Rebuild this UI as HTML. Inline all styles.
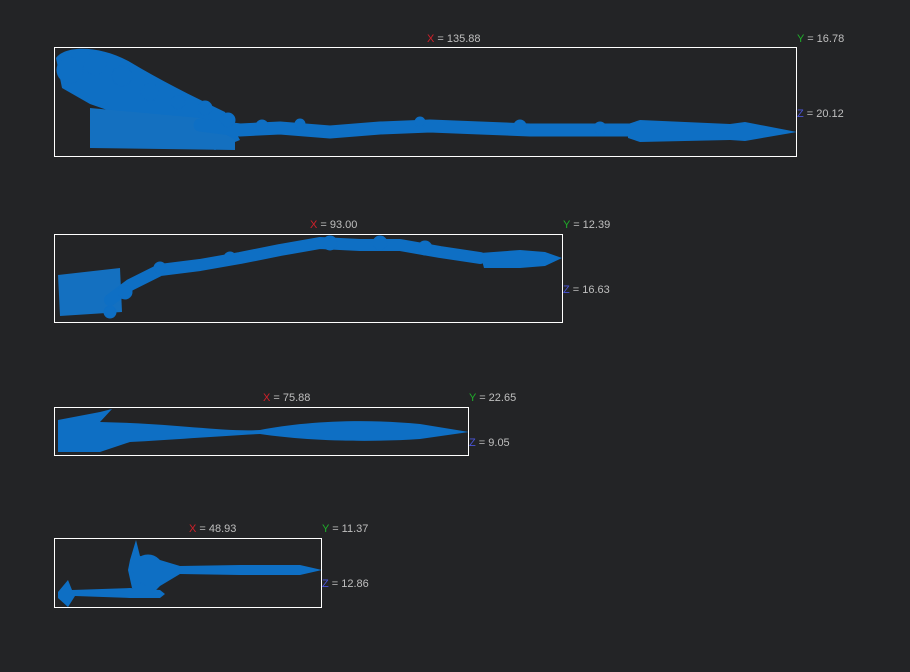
<!DOCTYPE html>
<html><head><meta charset="utf-8"><style>
html,body{margin:0;padding:0;background:#232426;}
svg{display:block}
text{font-family:"Liberation Sans",sans-serif;font-size:11px;fill:#bfbfbf}
.r{fill:#d0202a}.g{fill:#1fae2a}.b{fill:#4a55d8}
</style></head><body>
<svg width="910" height="672" viewBox="0 0 910 672">
<rect width="910" height="672" fill="#232426"/>
<g fill="#0e6fc4" stroke="#0e6fc4" stroke-linecap="round" stroke-linejoin="round">
<!-- panel 1 -->
<path d="M56 58 C65 45,100 45,130 62 C160 80,190 95,225 112 L240 140 L215 150 L150 125 L90 104 L62 88 Z" stroke="none"/>
<path d="M90 108 L200 118 L235 140 L235 150 L90 148 Z" stroke="none" fill="#1470c0"/>
<polyline fill="none" stroke-width="13" points="200,125 240,130 280,128 330,132 380,128 430,126 480,128 530,130 580,130 630,130"/>
<circle cx="70" cy="70" r="13"/><circle cx="95" cy="64" r="11"/><circle cx="122" cy="76" r="10"/><circle cx="150" cy="92" r="9"/><circle cx="178" cy="102" r="7"/><circle cx="205" cy="108" r="7"/><circle cx="228" cy="120" r="7"/>
<circle cx="262" cy="126" r="6"/><circle cx="300" cy="124" r="5"/><circle cx="420" cy="122" r="5"/><circle cx="520" cy="126" r="6"/><circle cx="600" cy="128" r="6"/>
<path d="M628 124 L640 120 L730 124 L745 122 L797 132 L745 141 L730 140 L640 142 L628 138 Z" stroke="none"/>
<!-- panel 2 -->
<path d="M58 275 L120 268 L122 312 L60 316 Z" stroke="none" fill="#1470c0"/>
<polyline fill="none" stroke-width="12" points="110,300 130,285 160,270 200,265 240,258 280,250 320,243 360,245 400,245 440,252 480,258"/>
<circle cx="125" cy="292" r="7"/><circle cx="160" cy="268" r="6"/><circle cx="230" cy="258" r="6"/><circle cx="330" cy="243" r="7"/><circle cx="380" cy="243" r="7"/><circle cx="425" cy="248" r="7"/><circle cx="110" cy="312" r="6"/>
<path d="M480 253 L520 250 L545 252 L562 258 L545 266 L520 268 L484 268 Z" stroke="none"/>
<!-- panel 3 -->
<path d="M58 420 L100 412 L112 409 L100 422 L130 423 C180 425,230 432,260 430 C300 422,360 418,420 424 L469 432 L420 439 C360 443,300 440,260 434 C220 436,170 440,130 442 L100 452 L58 452 Z" stroke="none"/>
<!-- panel 4 -->
<path d="M130 560 L136 540 L140 556 L160 560 L180 566 L240 565 L300 565 L322 570 L300 575 L240 575 L180 574 L160 586 L150 596 L132 588 L128 570 Z" stroke="none"/>
<circle cx="148" cy="570" r="15"/>
<path d="M58 592 L68 580 L72 590 L130 588 L160 590 L165 594 L160 598 L130 598 L75 596 L68 607 L58 598 Z" stroke="none"/>
</g>
<g fill="none" stroke="#ffffff" stroke-width="1">
<rect x="54.5" y="47.5" width="742" height="109"/>
<rect x="54.5" y="234.5" width="508" height="88"/>
<rect x="54.5" y="407.5" width="414" height="48"/>
<rect x="54.5" y="538.5" width="267" height="69"/>
</g>
<text x="427" y="42"><tspan class="r">X</tspan> = 135.88</text>
<text x="797" y="42"><tspan class="g">Y</tspan> = 16.78</text>
<text x="797" y="117"><tspan class="b">Z</tspan> = 20.12</text>
<text x="310" y="228"><tspan class="r">X</tspan> = 93.00</text>
<text x="563" y="228"><tspan class="g">Y</tspan> = 12.39</text>
<text x="563" y="293"><tspan class="b">Z</tspan> = 16.63</text>
<text x="263" y="401"><tspan class="r">X</tspan> = 75.88</text>
<text x="469" y="401"><tspan class="g">Y</tspan> = 22.65</text>
<text x="469" y="446"><tspan class="b">Z</tspan> = 9.05</text>
<text x="189" y="532"><tspan class="r">X</tspan> = 48.93</text>
<text x="322" y="532"><tspan class="g">Y</tspan> = 11.37</text>
<text x="322" y="587"><tspan class="b">Z</tspan> = 12.86</text>
</svg>
</body></html>
